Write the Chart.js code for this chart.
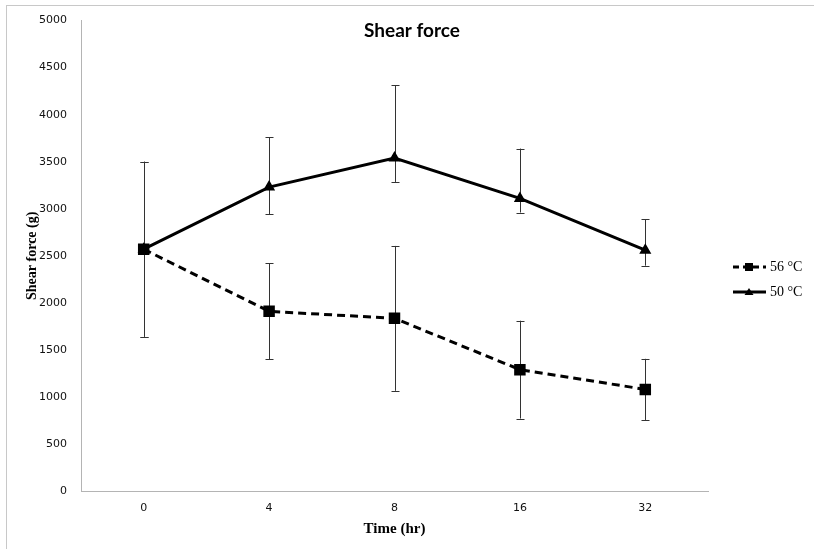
<!DOCTYPE html>
<html>
<head>
<meta charset="utf-8">
<script src="https://cdn.jsdelivr.net/npm/chart.js@4"></script>
<style>
  body { margin: 0; background: #fff; }
  #wrap { position: relative; width: 814px; height: 552px; }
  #frame { position: absolute; left: 6px; top: 5px; right: 0; bottom: 3px;
           border-left: 1px solid #c8c8c8; border-top: 1px solid #c8c8c8; pointer-events: none; }
</style>
</head>
<body>
<div id="wrap">
  <canvas id="shearChart" width="814" height="552"></canvas>
  <div id="frame"></div>
</div>
<script>
// Data
const timeLabels = ['0', '4', '8', '16', '32'];
const shear56 = [2570, 1910, 1835, 1290, 1080];
const err56Up = [930, 510, 770, 520, 325];
const err56Down = [930, 510, 770, 520, 325];
const shear50 = [2570, 3230, 3540, 3110, 2560];
const err50Up = [930, 530, 775, 530, 330];
const err50Down = [930, 290, 255, 150, 165];

const errorBars = [
    { up: err56Up, down: err56Down },
    { up: err50Up, down: err50Down }
];

// Error bars + title + legend drawn with the chart's own scales
const extrasPlugin = {
    id: 'extras',
    beforeDatasetsDraw(chart) {
        const ctx = chart.ctx;
        const x = chart.scales.x;
        const y = chart.scales.y;
        ctx.save();
        ctx.strokeStyle = '#333';
        ctx.lineWidth = 1;
        chart.data.datasets.forEach((ds, di) => {
            const eb = errorBars[di];
            ds.data.forEach((v, i) => {
                const px = Math.round(x.getPixelForValue(i)) + 0.5;
                const top = y.getPixelForValue(v + eb.up[i]);
                const bot = y.getPixelForValue(v - eb.down[i]);
                ctx.beginPath();
                ctx.moveTo(px, top);
                ctx.lineTo(px, bot);
                ctx.moveTo(px - 4, Math.round(top) + 0.5);
                ctx.lineTo(px + 4, Math.round(top) + 0.5);
                ctx.moveTo(px - 4, Math.round(bot) + 0.5);
                ctx.lineTo(px + 4, Math.round(bot) + 0.5);
                ctx.stroke();
            });
        });
        ctx.restore();
    },
    afterDraw(chart) {
        const ctx = chart.ctx;
        ctx.save();
        // title
        ctx.fillStyle = '#000';
        ctx.font = 'bold 19px Lato, "Open Sans", sans-serif';
        ctx.textAlign = 'center';
        ctx.textBaseline = 'middle';
        ctx.fillText('Shear force', 412, 31);

        // legend
        const items = [
            { label: chart.data.datasets[0].label, dash: [6, 4], marker: 'rect', y: 267 },
            { label: chart.data.datasets[1].label, dash: [], marker: 'triangle', y: 292 }
        ];
        items.forEach(it => {
            ctx.strokeStyle = '#000';
            ctx.lineWidth = 3;
            ctx.setLineDash(it.dash);
            ctx.beginPath();
            ctx.moveTo(733, it.y);
            ctx.lineTo(766, it.y);
            ctx.stroke();
            ctx.setLineDash([]);
            ctx.fillStyle = '#000';
            if (it.marker === 'rect') {
                ctx.fillRect(745, it.y - 4, 8, 8);
            } else {
                ctx.beginPath();
                ctx.moveTo(749, it.y - 4);
                ctx.lineTo(753.5, it.y + 3);
                ctx.lineTo(744.5, it.y + 3);
                ctx.closePath();
                ctx.fill();
            }
            ctx.font = '14px "Liberation Serif", serif';
            ctx.textAlign = 'left';
            ctx.textBaseline = 'middle';
            ctx.fillText(it.label, 770, it.y);
        });
        ctx.restore();
    }
};

const ctx = document.getElementById('shearChart').getContext('2d');
const shearChart = new Chart(ctx, {
    type: 'line',
    data: {
        labels: timeLabels,
        datasets: [
            {
                label: '56 °C',
                data: shear56,
                borderColor: '#000',
                backgroundColor: '#000',
                borderWidth: 3,
                borderDash: [8, 5],
                pointStyle: 'rect',
                pointRadius: 6,
                tension: 0
            },
            {
                label: '50 °C',
                data: shear50,
                borderColor: '#000',
                backgroundColor: '#000',
                borderWidth: 3,
                pointStyle: 'triangle',
                pointRadius: 4,
                tension: 0
            }
        ]
    },
    options: {
        responsive: false,
        animation: false,
        layout: { padding: { top: 20, right: 106, bottom: 0, left: 0 } },
        scales: {
            x: {
                offset: true,
                grid: { display: false, drawTicks: false },
                border: { color: '#b4b4b4', width: 1 },
                ticks: {
                    color: '#111',
                    padding: 11,
                    font: { family: 'DejaVu Sans', size: 11 }
                },
                title: {
                    display: true,
                    text: 'Time (hr)',
                    color: '#000',
                    padding: { top: 0, bottom: 14 },
                    font: { family: 'Liberation Serif', size: 15, weight: 'bold' }
                },
                afterFit(scale) { scale.height = 61; }
            },
            y: {
                min: 0,
                max: 5000,
                grid: { display: false, drawTicks: false },
                border: { color: '#b4b4b4', width: 1 },
                ticks: {
                    stepSize: 500,
                    color: '#111',
                    padding: 14,
                    font: { family: 'DejaVu Sans', size: 11 },
                    callback: v => String(v)
                },
                title: {
                    display: true,
                    text: 'Shear force (g)',
                    color: '#000',
                    padding: { top: 24, bottom: 0 },
                    font: { family: 'Liberation Serif', size: 14, weight: 'bold' }
                },
                afterFit(scale) { scale.width = 81; }
            }
        },
        plugins: {
            legend: { display: false },
            tooltip: { enabled: false }
        }
    },
    plugins: [extrasPlugin]
});
</script>
</body>
</html>
